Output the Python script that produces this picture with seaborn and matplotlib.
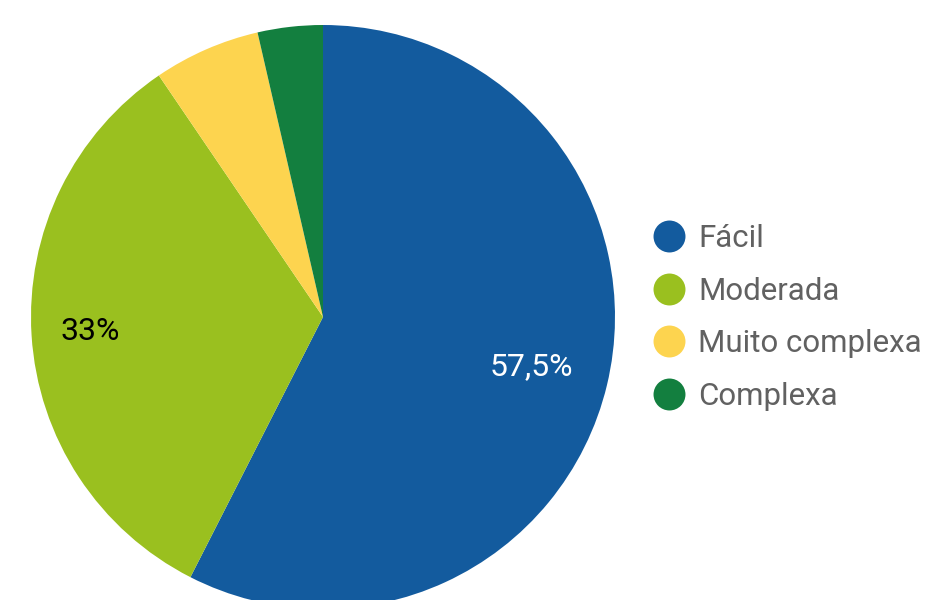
import matplotlib
matplotlib.use("Agg")
from matplotlib import pyplot as plt
from matplotlib.lines import Line2D
import seaborn as sns

categories = ["Fácil", "Moderada", "Muito complexa", "Complexa"]
values = [57.5, 33.0, 5.9, 3.6]
colors = ["#135B9E", "#9AC01F", "#FDD44F", "#137F3F"]
label_colors = ["white", "black", "black", "black"]
label_dist = [0.735, 0.80, 0.76, 0.76]

sns.set_theme(style="white")
plt.rcParams['font.family'] = ['Roboto', 'DejaVu Sans']

palette = sns.color_palette(colors)

def pct_fmt(p):
    if p < 10:
        return ""
    s = f"{p:.1f}"
    if s.endswith(".0"):
        s = s[:-2]
    return s.replace(".", ",") + "%"

fig = plt.figure(figsize=(9.27, 6), dpi=100)
ax = fig.add_axes([0, 0, 1, 1])

wedges, texts, autotexts = ax.pie(values, colors=palette, startangle=90, counterclock=False,
                                  autopct=pct_fmt, pctdistance=1.0, radius=1,
                                  wedgeprops=dict(linewidth=0))
for t, c, d in zip(autotexts, label_colors, label_dist):
    x, y = t.get_position()
    t.set_position((x * d, y * d))
    t.set_color(c)
    t.set_fontsize(23)

# pie center at (323, 317) px, radius 292 px
r = 292.0
ax.set_xlim(-323 / r, (927 - 323) / r)
ax.set_ylim(-(600 - 317) / r, 317 / r)
ax.axis("off")

handles = [Line2D([0], [0], marker="o", linestyle="", markersize=23,
                  markerfacecolor=c, markeredgewidth=0) for c in colors]
leg = ax.legend(handles, categories, loc="center left",
                bbox_to_anchor=(656.5 / 927, 282.5 / 600), bbox_transform=fig.transFigure,
                frameon=False, fontsize=22.5, handlelength=0.81, handletextpad=0.52,
                labelspacing=0.75, borderpad=0, borderaxespad=0)
for t in leg.get_texts():
    t.set_color("#616161")

fig.savefig("out.png", dpi=100)
